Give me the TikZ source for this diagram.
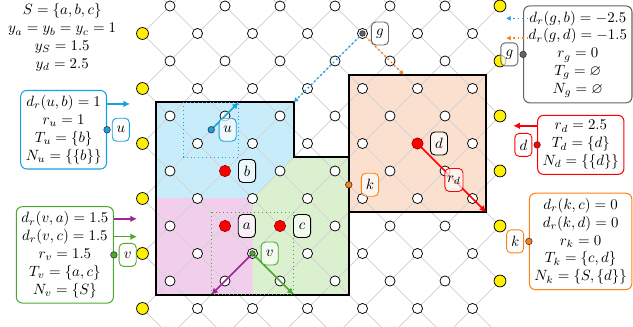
\documentclass[tikz,border=0pt]{standalone}
\usepackage{amsmath,amssymb}
\usetikzlibrary{calc,arrows.meta,positioning}
\definecolor{cellBlue}{RGB}{201,236,250}
\definecolor{cellPink}{RGB}{240,206,236}
\definecolor{cellGreen}{RGB}{218,240,207}
\definecolor{cellOrange}{RGB}{251,223,207}
\definecolor{inkBlue}{RGB}{27,160,222}
\definecolor{inkGreen}{RGB}{78,168,48}
\definecolor{inkPurple}{RGB}{158,38,148}
\definecolor{inkOrange}{RGB}{255,128,20}
\definecolor{inkGray}{RGB}{100,100,100}
\definecolor{gridGray}{RGB}{212,212,212}
\definecolor{siteYellow}{RGB}{255,240,0}

\begin{document}
\begin{tikzpicture}[x=0.65cm,y=-0.65cm,
  site/.style={circle,draw=black,line width=.5pt,fill=white,inner sep=0pt,minimum size=6.8pt},
  edgesite/.style={circle,draw=black,line width=.5pt,fill=siteYellow,inner sep=0pt,minimum size=8pt},
  terminal/.style={circle,draw=red!60!black,line width=.4pt,fill=red,inner sep=0pt,minimum size=7.6pt},
  probe/.style={circle,draw=black!80,line width=.4pt,inner sep=0pt,minimum size=4.4pt},
  tag/.style={rounded corners=3pt,draw=black,line width=.6pt,fill=white,fill opacity=.7,text opacity=1,text=black,inner sep=1.5pt,minimum width=11.5pt,minimum height=15.5pt},
  infobox/.style={rounded corners=4pt,line width=.7pt,align=center,inner sep=3.4pt,fill=white},
  shaft/.style={line width=1.1pt,-{Latex[length=4.5pt,width=4.5pt]}},
  dotshaft/.style={line width=1pt,dotted,-{Latex[length=3pt,width=3.5pt]}},
  gridline/.style={draw=gridGray,line width=.6pt},
  hull/.style={draw=black,line width=1.2pt}]
\useasboundingbox (-6.182,-0.218) rectangle (16.836,11.673);

% cells of a, b, c and d
\fill[cellBlue] (-0.5,3.5) -- (4.5,3.5) -- (4.5,5.5) -- (3,7) -- (-0.5,7) -- cycle;
\fill[cellPink] (-0.5,7) rectangle (3,10.5);
\fill[cellGreen] (3,7) -- (4.5,5.5) -- (6.5,5.5) -- (6.5,10.5) -- (3,10.5) -- cycle;
\fill[cellOrange] (6.5,2.5) rectangle (11.5,7.5);

% diagonal lattice
\begin{scope}
\clip (-1,-0.218) rectangle (12,11.673);
\foreach \c in {-14,-12,...,14}
  \draw[gridline] (\c-2,-2) -- (\c+14,14);
\foreach \c in {-2,0,...,26}
  \draw[gridline] (\c+2,-2) -- (\c-14,14);
\end{scope}

\draw[hull] (-0.5,3.5) -- (4.5,3.5) -- (4.5,5.5) -- (6.5,5.5) -- (6.5,10.5) -- (-0.5,10.5) -- cycle;
\draw[hull] (6.5,2.5) rectangle (11.5,7.5);

% balls of u and v
\draw[inkBlue,dotted,line width=.6pt] (0.5,3.5) rectangle (2.5,5.5);
\draw[inkGreen,dotted,line width=.6pt] (1.5,7.5) rectangle (4.5,10.5);

% sites
\foreach \i in {0,...,11} {
  \pgfmathtruncatemacro\jfirst{mod(\i,2)}
  \pgfmathtruncatemacro\jnext{\jfirst+2}
  \foreach \j in {\jfirst,\jnext,...,11}
    \node[site] (s-\i-\j) at (\i,\j) {};
}
\foreach \j in {1,3,...,11} \node[edgesite] (yl-\j) at (-1,\j) {};
\foreach \j in {0,2,...,10} \node[edgesite] (yr-\j) at (12,\j) {};

\node[terminal] (a) at (2,8) {};
\node[terminal] (b) at (2,6) {};
\node[terminal] (c) at (4,8) {};
\node[terminal] (d) at (9,5) {};

\coordinate (u) at (1.5,4.5);
\coordinate (v) at (3,9);
\coordinate (g) at (7,1);
\coordinate (k) at (6.5,6.5);
\coordinate (ucorner) at (2.5,3.5);
\coordinate (vleft) at (1.5,10.5);
\coordinate (vright) at (4.5,10.5);
\coordinate (gleft) at (4.5,3.5);
\coordinate (gright) at (8.5,2.5);
\coordinate (dcorner) at (11.5,7.5);

\draw[shaft,inkBlue] (u) -- (ucorner);
\draw[shaft,inkPurple] (v) -- (vleft);
\draw[shaft,inkGreen] (v) -- (vright);
\draw[dotshaft,inkBlue] (g) -- (gleft);
\draw[dotshaft,inkOrange] (g) -- (gright);
\draw[shaft,red] (d) -- node[tag,draw=red] (rdtag) {$r_d$} (dcorner);

\node[probe,fill=inkBlue] (udot) at (u) {};
\node[probe,fill=inkGreen,minimum size=3.8pt] (vdot) at (v) {};
\node[probe,fill=inkGray,minimum size=3.8pt] (gdot) at (g) {};
\node[probe,fill=inkOrange] (kdot) at (k) {};

\node[tag,right=4.6pt of a] (atag) {$a$};
\node[tag,right=4.8pt of b] (btag) {$b$};
\node[tag,right=4.8pt of c] (ctag) {$c$};
\node[tag,right=4.4pt of d] (dtag) {$d$};
\node[tag,draw=inkBlue,right=2.6pt of udot] (utag) {$u$};
\node[tag,draw=inkGreen,right=3.4pt of vdot] (vtag) {$v$};
\node[tag,draw=inkGray,right=3.6pt of gdot] (gtag) {$g$};
\node[tag,draw=inkOrange,right=5.8pt of kdot] (ktag) {$k$};

% given data
\node[align=center] (given) at (-3.92,1.15) {$S=\{a,b,c\}$\\$y_a=y_b=y_c=1$\\$y_S=1.5$\\$y_d=2.5$};

% info of u
\node[infobox,draw=inkBlue,anchor=east] (uinfo) at (-2.29,4.5) {$d_r(u,b)=1$\\$r_u=1$\\$T_u=\{b\}$\\$N_u=\{\{b\}\}$};
\node[probe,fill=inkBlue] (uport) at (uinfo.east) {};
\node[tag,draw=inkBlue,right=3.2pt of uinfo.east] (uside) {$u$};
\draw[shaft,inkBlue] ([yshift=-9.4pt]uinfo.north east) -- ++(0.84,0);

% info of v
\node[infobox,draw=inkGreen,anchor=east] (vinfo) at (-2.04,9.05) {$d_r(v,a)=1.5$\\$d_r(v,c)=1.5$\\$r_v=1.5$\\$T_v=\{a,c\}$\\$N_v=\{S\}$};
\node[probe,fill=inkGreen] (vport) at (vinfo.east) {};
\node[tag,draw=inkGreen,right=3.2pt of vinfo.east] (vside) {$v$};
\draw[shaft,inkPurple] ([yshift=-8.5pt]vinfo.north east) -- ++(0.84,0);
\draw[shaft,inkGreen] ([yshift=-20.5pt]vinfo.north east) -- ++(0.84,0);

% info of g
\node[infobox,draw=inkGray,anchor=west] (ginfo) at (12.84,1.76) {$d_r(g,b)=-2.5$\\$d_r(g,d)=-1.5$\\$r_g=0$\\$T_g=\varnothing$\\$N_g=\varnothing$};
\node[probe,fill=inkGray] (gport) at (ginfo.west) {};
\node[tag,draw=inkGray,left=3.2pt of ginfo.west] (gside) {$g$};
\draw[dotshaft,inkBlue] ([xshift=3.4pt,yshift=-8.7pt]ginfo.north west) -- ++(-0.8,0);
\draw[dotshaft,inkOrange] ([xshift=3.4pt,yshift=-22pt]ginfo.north west) -- ++(-0.8,0);

% info of d
\node[infobox,draw=red,anchor=west] (dinfo) at (13.35,5.05) {$r_d=2.5$\\$T_d=\{d\}$\\$N_d=\{\{d\}\}$};
\node[probe,fill=red] (dport) at (dinfo.west) {};
\node[tag,draw=red,left=3.2pt of dinfo.west] (dside) {$d$};
\draw[shaft,red] ([yshift=-7.4pt]dinfo.north west) -- ++(-0.87,0);

% info of k
\node[infobox,draw=inkOrange,anchor=west] (kinfo) at (13.05,8.56) {$d_r(k,c)=0$\\$d_r(k,d)=0$\\$r_k=0$\\$T_k=\{c,d\}$\\$N_k=\{S,\{d\}\}$};
\node[probe,fill=inkOrange] (kport) at (kinfo.west) {};
\node[tag,draw=inkOrange,left=3.2pt of kinfo.west] (kside) {$k$};
\end{tikzpicture}
\end{document}
